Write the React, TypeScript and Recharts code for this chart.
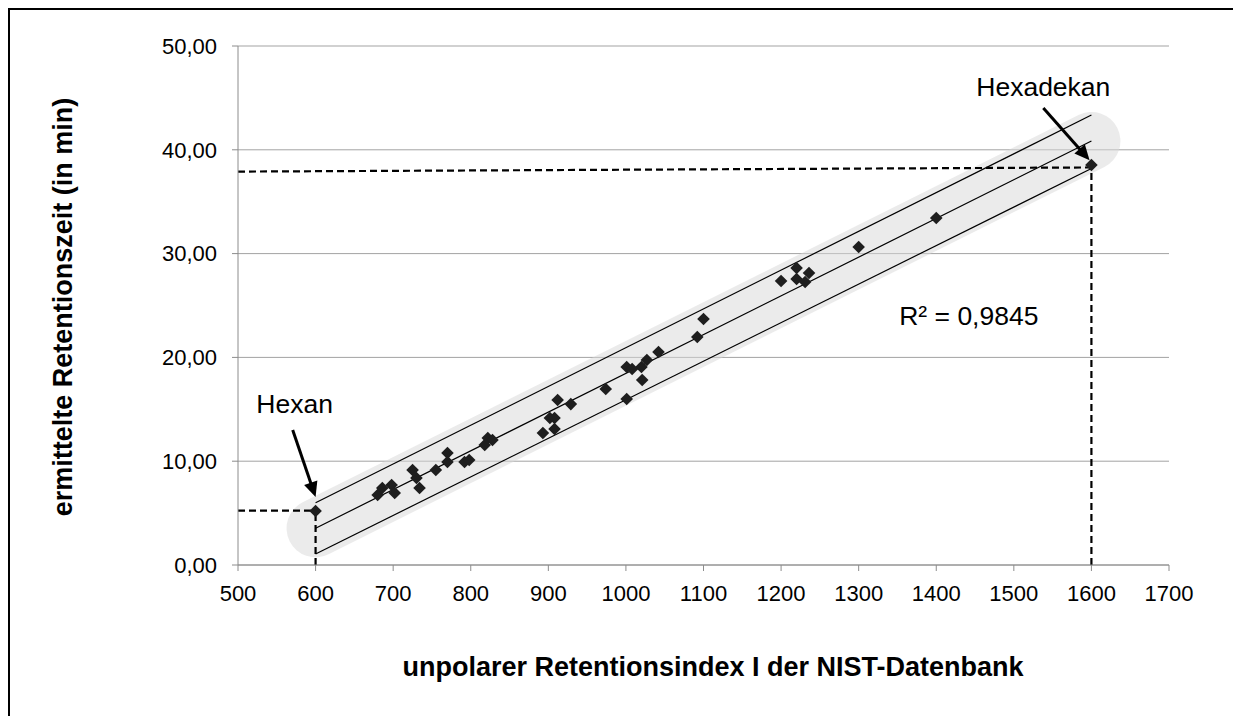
import React from "react";
import {
  ScatterChart,
  Scatter,
  XAxis,
  YAxis,
  CartesianGrid,
  ReferenceLine,
  ReferenceDot,
} from "recharts";

// NIST retention index vs. measured retention time (min)
const RETENTION_INDEX = [
  600, 680, 686, 698, 702, 725, 730, 734, 755, 770, 770, 792, 798, 818, 822,
  828, 893, 902, 908, 908, 912, 929, 974, 1001, 1001, 1008, 1020, 1021, 1027,
  1042, 1092, 1100, 1200, 1220, 1220, 1231, 1236, 1300, 1400, 1600,
];
const RETENTION_TIME = [
  5.2, 6.74, 7.42, 7.71, 6.94, 9.15, 8.38, 7.42, 9.15, 10.79, 9.92, 9.92,
  10.12, 11.56, 12.24, 12.04, 12.72, 14.16, 14.16, 13.1, 15.9, 15.5, 16.96,
  15.99, 19.08, 18.88, 19.08, 17.82, 19.75, 20.52, 21.97, 23.7, 27.36, 28.61,
  27.55, 27.26, 28.13, 30.64, 33.43, 38.54,
];

const X_TICKS = [500, 600, 700, 800, 900, 1000, 1100, 1200, 1300, 1400, 1500, 1600, 1700];
const Y_TICKS = [0, 10, 20, 30, 40, 50];

// fit line and band edges (start / end)
const FIT_X = [600, 1600];
const FIT_MID = [3.54, 40.85];
const FIT_UPPER = [6.0, 43.35];
const FIT_LOWER = [1.06, 38.2];

// the two reference alkanes
const HEXAN = { x: 600, y: 5.23 };
const HEXADEKAN = { x: 1600, y: 38.54 };
const HEXADEKAN_LEVEL = [37.9, 38.3];

const ARROW_HEXAN = [{ x: 570.5, y: 13.0 }, { x: 600, y: 6.55 }];
const ARROW_HEXADEKAN = [{ x: 1538, y: 44.03 }, { x: 1597.6, y: 39.0 }];

const LABELS = [
  { x: 573, y: 15.56, text: "Hexan" },
  { x: 1538, y: 46.05, text: "Hexadekan" },
  { x: 1442, y: 24.0, text: "R² = 0,9845" },
];

const FONT = '"Liberation Sans", Arial, Helvetica, sans-serif';

const data = RETENTION_INDEX.map((x, i) => ({ x, y: RETENTION_TIME[i] }));

const Diamond = (props: any) => {
  const { cx, cy } = props;
  const h = 6.3;
  return (
    <polygon
      points={`${cx},${cy - h} ${cx + h},${cy} ${cx},${cy + h} ${cx - h},${cy}`}
      fill="#1e1e1e"
    />
  );
};

const Band = (props: any) => {
  const { x1, y1, x2, y2 } = props;
  return (
    <line
      x1={x1}
      y1={y1}
      x2={x2}
      y2={y2}
      stroke="#d8d8d8"
      strokeOpacity={0.5}
      strokeWidth={58}
      strokeLinecap="round"
    />
  );
};

const Arrow = (props: any) => {
  const { x1, y1, x2, y2 } = props;
  const dx = x2 - x1;
  const dy = y2 - y1;
  const len = Math.hypot(dx, dy) || 1;
  const ux = dx / len;
  const uy = dy / len;
  const head = 15;
  const hw = 7;
  const bx = x2 - ux * head;
  const by = y2 - uy * head;
  return (
    <g>
      <line x1={x1} y1={y1} x2={bx + ux * 2} y2={by + uy * 2} stroke="#000" strokeWidth={3} />
      <polygon
        points={`${x2},${y2} ${bx - uy * hw},${by + ux * hw} ${bx + uy * hw},${by - ux * hw}`}
        fill="#000"
      />
    </g>
  );
};

const fmtY = (v: number) => v.toFixed(2).replace(".", ",");

export default function App() {
  const dash = { stroke: "#000", strokeWidth: 2.2, strokeDasharray: "7 4" };
  return (
    <div
      style={{
        position: "relative",
        width: 1231,
        height: 708,
        boxSizing: "border-box",
        borderLeft: "2px solid #000",
        borderTop: "2px solid #000",
        fontFamily: FONT,
        background: "#fff",
      }}
    >
      <ScatterChart
        width={1229}
        height={706}
        margin={{ top: 36, right: 70, bottom: 111, left: 148 }}
      >
        <CartesianGrid vertical={false} stroke="#a3a3a3" />
        <XAxis
          type="number"
          dataKey="x"
          domain={[500, 1700]}
          ticks={X_TICKS}
          interval={0}
          height={40}
          tickSize={6}
          tickMargin={14}
          axisLine={{ stroke: "#8c8c8c" }}
          tickLine={{ stroke: "#8c8c8c" }}
          tick={{ fontSize: 22, fill: "#000" }}
        />
        <YAxis
          type="number"
          dataKey="y"
          domain={[0, 50]}
          ticks={Y_TICKS}
          interval={0}
          width={80}
          tickSize={6}
          tickMargin={15}
          tickFormatter={fmtY}
          axisLine={{ stroke: "#8c8c8c" }}
          tickLine={{ stroke: "#8c8c8c" }}
          tick={{ fontSize: 22, fill: "#000" }}
        />
        <ReferenceLine
          segment={[
            { x: FIT_X[0], y: FIT_MID[0] },
            { x: FIT_X[1], y: FIT_MID[1] },
          ]}
          shape={Band}
        />
        <ReferenceLine
          segment={[
            { x: FIT_X[0], y: FIT_UPPER[0] },
            { x: FIT_X[1], y: FIT_UPPER[1] },
          ]}
          stroke="#000"
          strokeWidth={1.2}
        />
        <ReferenceLine
          segment={[
            { x: FIT_X[0], y: FIT_MID[0] },
            { x: FIT_X[1], y: FIT_MID[1] },
          ]}
          stroke="#000"
          strokeWidth={1.2}
        />
        <ReferenceLine
          segment={[
            { x: FIT_X[0], y: FIT_LOWER[0] },
            { x: FIT_X[1], y: FIT_LOWER[1] },
          ]}
          stroke="#000"
          strokeWidth={1.2}
        />
        <ReferenceLine
          segment={[
            { x: 500, y: HEXAN.y },
            { x: HEXAN.x, y: HEXAN.y },
          ]}
          {...dash}
        />
        <ReferenceLine
          segment={[
            { x: HEXAN.x, y: 0 },
            { x: HEXAN.x, y: HEXAN.y },
          ]}
          {...dash}
        />
        <ReferenceLine
          segment={[
            { x: 500, y: HEXADEKAN_LEVEL[0] },
            { x: HEXADEKAN.x, y: HEXADEKAN_LEVEL[1] },
          ]}
          {...dash}
        />
        <ReferenceLine
          segment={[
            { x: HEXADEKAN.x, y: 0 },
            { x: HEXADEKAN.x, y: HEXADEKAN.y },
          ]}
          {...dash}
        />
        <Scatter data={data} shape={Diamond} isAnimationActive={false} />
        <ReferenceLine segment={ARROW_HEXAN} shape={Arrow} />
        <ReferenceLine segment={ARROW_HEXADEKAN} shape={Arrow} />
        {LABELS.map((l) => (
          <ReferenceDot
            key={l.text}
            x={l.x}
            y={l.y}
            r={0}
            fill="none"
            stroke="none"
            label={{ value: l.text, position: "center", fontSize: 26.5, fill: "#000" }}
          />
        ))}
      </ScatterChart>
      <div
        style={{
          position: "absolute",
          left: 703,
          top: 644,
          transform: "translateX(-50%)",
          fontSize: 27,
          lineHeight: "27px",
          fontWeight: "bold",
          whiteSpace: "nowrap",
        }}
      >
        unpolarer Retentionsindex I der NIST-Datenbank
      </div>
      <div style={{ position: "absolute", left: 53, top: 297, width: 0, height: 0 }}>
        <div
          style={{
            position: "absolute",
            left: 0,
            top: 0,
            transform: "translate(-50%, -50%) rotate(-90deg)",
            fontSize: 27,
            lineHeight: "27px",
            fontWeight: "bold",
            whiteSpace: "nowrap",
          }}
        >
          ermittelte Retentionszeit (in min)
        </div>
      </div>
    </div>
  );
}
